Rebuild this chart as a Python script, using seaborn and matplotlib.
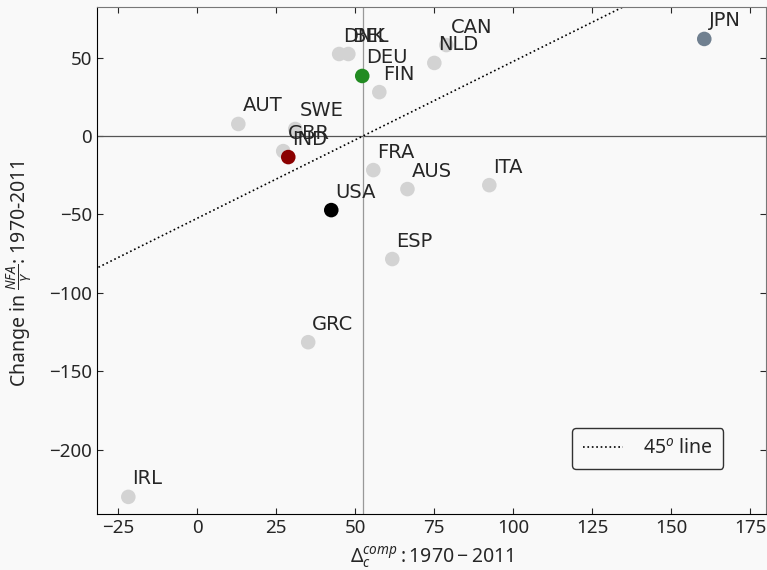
import matplotlib
matplotlib.use('Agg')
import matplotlib.pyplot as plt
import pandas as pd
import numpy as np
import seaborn as sns

countries = ['JPN', 'CAN', 'NLD', 'DEU', 'DNK', 'BEL', 'FIN', 'AUT', 'SWE',
             'GBR', 'IND', 'FRA', 'AUS', 'ITA', 'USA', 'ESP', 'GRC', 'IRL']
delta_comp = [160.4, 78.8, 75.0, 52.2, 44.9, 47.8, 57.6, 13.0, 31.0,
              27.2, 28.8, 55.7, 66.5, 92.4, 42.4, 61.7, 35.1, -21.8]
nfa_change = [61.9, 58.0, 46.6, 38.3, 52.3, 52.3, 28.0, 7.7, 4.5,
              -9.6, -13.4, -21.7, -33.8, -31.3, -47.2, -78.4, -131.4, -230.0]
highlight = {'JPN': '#708090', 'DEU': '#228B22', 'IND': '#8B0000', 'USA': 'black'}

df = pd.DataFrame({'country': countries, 'delta': delta_comp, 'nfa': nfa_change})
df['top'] = df['country'].isin(highlight.keys())

sns.set_style('ticks')
plt.rcParams['font.family'] = ['Noto Sans', 'DejaVu Sans']
plt.rcParams['mathtext.fontset'] = 'custom'
plt.rcParams['mathtext.rm'] = 'Noto Sans'
plt.rcParams['mathtext.it'] = 'Noto Sans:italic'
plt.rcParams['mathtext.bf'] = 'Noto Sans:bold'

fig = plt.figure(figsize=(7.67, 5.70), dpi=100)
fig.patch.set_facecolor('#f9f9f9')
ax = fig.add_axes([0.1265, 0.098, 0.8725, 0.889])
ax.set_facecolor('#f9f9f9')

x_center = 52.4
ax.axhline(0, color='#555555', lw=0.9, zorder=1)
ax.axvline(x_center, color='#999999', lw=0.9, zorder=1)

xs = np.array([-35, 185])
ax.plot(xs, xs - x_center, ls=':', color='black', lw=1.2, label='$45^o$ line', zorder=1)

grey = df[~df['top']]
sns.scatterplot(data=grey, x='delta', y='nfa', color='#d3d3d3', s=110,
                edgecolor='none', ax=ax, zorder=2, legend=False)
for c, col in highlight.items():
    sub = df[df['country'] == c]
    sns.scatterplot(data=sub, x='delta', y='nfa', color=col, s=110,
                    edgecolor='none', ax=ax, zorder=3, legend=False)

for _, r in df.iterrows():
    ax.annotate(r['country'], (r['delta'], r['nfa']), xytext=(3, 9),
                textcoords='offset points', fontsize=14, family='DejaVu Sans')

ax.set_xlim(-31.7, 180)
ax.set_ylim(-241, 82)
ax.set_xticks([-25, 0, 25, 50, 75, 100, 125, 150, 175])
ax.set_yticks([-200, -150, -100, -50, 0, 50])
ax.tick_params(direction='in', top=True, right=True, labelsize=13.5, length=4)
for s in ['top', 'right']:
    ax.spines[s].set_color('#777777')
for s in ['left', 'bottom']:
    ax.spines[s].set_color('black')

ax.set_xlabel(r'$\Delta_c^{comp}: 1970 - 2011$', fontsize=14, labelpad=5)
ax.set_ylabel(r'Change in $\frac{NFA}{Y}$: 1970-2011', fontsize=14)
ax.yaxis.set_label_coords(-0.093, 0.475)

leg = ax.legend(loc='lower right', bbox_to_anchor=(0.936, 0.089), fontsize=14,
                frameon=True, fancybox=True, edgecolor='black', facecolor='#f9f9f9',
                handlelength=2.1, handletextpad=1.0, borderaxespad=0,
                borderpad=0.55)
leg.get_frame().set_linewidth(1.0)

fig.savefig('out.png', dpi=100, facecolor=fig.get_facecolor())
